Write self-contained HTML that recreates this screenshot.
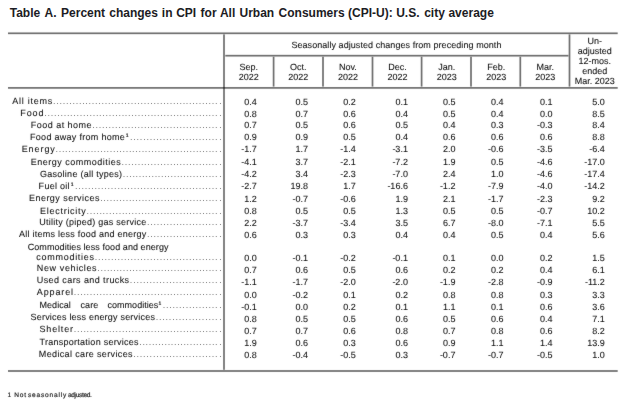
<!DOCTYPE html><html><head><meta charset="utf-8"><style>
html,body{margin:0;padding:0;background:#fff;}svg{display:block;}
text{font-family:"Liberation Sans", Arial, sans-serif;fill:#111;text-rendering:geometricPrecision;}
.t{font-weight:bold;font-size:12px;fill:#1c1c24;text-rendering:auto;}
.b{font-size:9px;stroke:#111;stroke-width:0.08;}
.d{font-size:9px;fill:#666;}
.s{font-size:5px;stroke:#111;stroke-width:0.2px;}
.f{font-size:6.6px;fill:#222;stroke:#222;stroke-width:0.18px;}
</style></head><body>
<svg width="624" height="410" viewBox="0 0 624 410">
<defs><filter id="bl" x="0" y="0" width="624" height="410" filterUnits="userSpaceOnUse" color-interpolation-filters="sRGB"><feConvolveMatrix order="3" kernelMatrix="0.0100 0.0400 0.0100 0.0400 0.8000 0.0400 0.0100 0.0400 0.0100" edgeMode="duplicate"/></filter></defs>
<g filter="url(#bl)">
<rect width="624" height="410" fill="#fff"/>
<rect x="8.00" y="32.45" width="609.70" height="1.70" fill="rgba(0,0,0,0.57)"/>
<rect x="225.30" y="54.85" width="343.10" height="1.70" fill="rgba(0,0,0,0.57)"/>
<rect x="8.00" y="87.05" width="609.70" height="1.70" fill="rgba(0,0,0,0.57)"/>
<rect x="8.00" y="370.15" width="609.70" height="1.70" fill="rgba(0,0,0,0.58)"/>
<rect x="223.15" y="34.40" width="1.70" height="335.40" fill="rgba(0,0,0,0.57)"/>
<rect x="568.65" y="34.40" width="1.70" height="52.20" fill="rgba(0,0,0,0.57)"/>
<rect x="272.75" y="56.80" width="1.70" height="29.80" fill="rgba(0,0,0,0.57)"/>
<rect x="322.15" y="56.80" width="1.70" height="29.80" fill="rgba(0,0,0,0.57)"/>
<rect x="371.65" y="56.80" width="1.70" height="29.80" fill="rgba(0,0,0,0.57)"/>
<rect x="420.75" y="56.80" width="1.70" height="29.80" fill="rgba(0,0,0,0.57)"/>
<rect x="470.15" y="56.80" width="1.70" height="29.80" fill="rgba(0,0,0,0.57)"/>
<rect x="519.45" y="56.80" width="1.70" height="29.80" fill="rgba(0,0,0,0.57)"/>
<text class="b" x="291.4" y="47.7" textLength="210">Seasonally adjusted changes from preceding month</text>
<text class="b" x="248.75" y="70.2" text-anchor="middle">Sep.</text>
<text class="b" x="248.75" y="80.2" text-anchor="middle">2022</text>
<text class="b" x="298.35" y="70.2" text-anchor="middle">Oct.</text>
<text class="b" x="298.35" y="80.2" text-anchor="middle">2022</text>
<text class="b" x="347.95" y="70.2" text-anchor="middle">Nov.</text>
<text class="b" x="347.95" y="80.2" text-anchor="middle">2022</text>
<text class="b" x="397.40" y="70.2" text-anchor="middle">Dec.</text>
<text class="b" x="397.40" y="80.2" text-anchor="middle">2022</text>
<text class="b" x="446.80" y="70.2" text-anchor="middle">Jan.</text>
<text class="b" x="446.80" y="80.2" text-anchor="middle">2023</text>
<text class="b" x="496.15" y="70.2" text-anchor="middle">Feb.</text>
<text class="b" x="496.15" y="80.2" text-anchor="middle">2023</text>
<text class="b" x="545.20" y="70.2" text-anchor="middle">Mar.</text>
<text class="b" x="545.20" y="80.2" text-anchor="middle">2023</text>
<text class="b" x="594.8" y="43.90" text-anchor="middle">Un-</text>
<text class="b" x="594.8" y="54.00" text-anchor="middle">adjusted</text>
<text class="b" x="594.8" y="64.10" text-anchor="middle">12-mos.</text>
<text class="b" x="594.8" y="74.20" text-anchor="middle">ended</text>
<text class="b" x="594.8" y="84.30" text-anchor="middle">Mar. 2023</text>
<text class="b" x="12.30" y="104.40" textLength="39.90">All items</text>
<text class="d" x="52.95 56.19 59.43 62.68 65.92 69.16 72.40 75.64 78.89 82.13 85.37 88.61 91.85 95.10 98.34 101.58 104.82 108.06 111.31 114.55 117.79 121.03 124.27 127.52 130.76 134.00 137.24 140.48 143.73 146.97 150.21 153.45 156.69 159.94 163.18 166.42 169.66 172.90 176.15 179.39 182.63 185.87 189.11 192.36 195.60 198.84 202.08 205.32 208.57 211.81 215.05" y="104.40">...................................................</text>
<text class="d" x="219.35" y="104.40">.</text>
<text class="b" x="256.80" y="104.50" text-anchor="end">0.4</text>
<text class="b" x="308.10" y="104.50" text-anchor="end">0.5</text>
<text class="b" x="355.70" y="104.50" text-anchor="end">0.2</text>
<text class="b" x="407.90" y="104.50" text-anchor="end">0.1</text>
<text class="b" x="455.40" y="104.50" text-anchor="end">0.5</text>
<text class="b" x="503.50" y="104.50" text-anchor="end">0.4</text>
<text class="b" x="552.60" y="104.50" text-anchor="end">0.1</text>
<text class="b" x="604.80" y="104.50" text-anchor="end">5.0</text>
<text class="b" x="20.20" y="116.20" textLength="23.40">Food</text>
<text class="d" x="44.35 47.57 50.79 54.01 57.23 60.45 63.67 66.90 70.12 73.34 76.56 79.78 83.00 86.22 89.44 92.66 95.88 99.10 102.32 105.54 108.77 111.99 115.21 118.43 121.65 124.87 128.09 131.31 134.53 137.75 140.97 144.19 147.41 150.63 153.86 157.08 160.30 163.52 166.74 169.96 173.18 176.40 179.62 182.84 186.06 189.28 192.50 195.73 198.95 202.17 205.39 208.61 211.83 215.05" y="116.20">......................................................</text>
<text class="d" x="219.35" y="116.20">.</text>
<text class="b" x="256.80" y="116.50" text-anchor="end">0.8</text>
<text class="b" x="308.10" y="116.50" text-anchor="end">0.7</text>
<text class="b" x="355.70" y="116.50" text-anchor="end">0.6</text>
<text class="b" x="407.90" y="116.50" text-anchor="end">0.4</text>
<text class="b" x="455.40" y="116.50" text-anchor="end">0.5</text>
<text class="b" x="503.50" y="116.50" text-anchor="end">0.4</text>
<text class="b" x="552.60" y="116.50" text-anchor="end">0.0</text>
<text class="b" x="604.80" y="116.50" text-anchor="end">8.5</text>
<text class="b" x="30.70" y="128.20" textLength="60.90">Food at home</text>
<text class="d" x="92.35 95.58 98.81 102.04 105.27 108.49 111.72 114.95 118.18 121.41 124.64 127.87 131.10 134.33 137.56 140.78 144.01 147.24 150.47 153.70 156.93 160.16 163.39 166.62 169.84 173.07 176.30 179.53 182.76 185.99 189.22 192.45 195.68 198.91 202.13 205.36 208.59 211.82 215.05" y="128.20">.......................................</text>
<text class="d" x="219.35" y="128.20">.</text>
<text class="b" x="256.80" y="128.20" text-anchor="end">0.7</text>
<text class="b" x="308.10" y="128.20" text-anchor="end">0.5</text>
<text class="b" x="355.70" y="128.20" text-anchor="end">0.6</text>
<text class="b" x="407.90" y="128.20" text-anchor="end">0.5</text>
<text class="b" x="455.40" y="128.20" text-anchor="end">0.4</text>
<text class="b" x="503.50" y="128.20" text-anchor="end">0.3</text>
<text class="b" x="552.60" y="128.20" text-anchor="end">-0.3</text>
<text class="b" x="604.80" y="128.20" text-anchor="end">8.4</text>
<text class="b" x="30.00" y="139.90" textLength="94.80">Food away from home</text>
<text class="s" x="125.70" y="136.90">1</text>
<text class="d" x="130.05 133.32 136.59 139.86 143.13 146.40 149.67 152.93 156.20 159.47 162.74 166.01 169.28 172.55 175.82 179.09 182.36 185.63 188.90 192.17 195.43 198.70 201.97 205.24 208.51 211.78 215.05" y="139.90">...........................</text>
<text class="d" x="219.35" y="139.90">.</text>
<text class="b" x="256.80" y="140.40" text-anchor="end">0.9</text>
<text class="b" x="308.10" y="140.40" text-anchor="end">0.9</text>
<text class="b" x="355.70" y="140.40" text-anchor="end">0.5</text>
<text class="b" x="407.90" y="140.40" text-anchor="end">0.4</text>
<text class="b" x="455.40" y="140.40" text-anchor="end">0.6</text>
<text class="b" x="503.50" y="140.40" text-anchor="end">0.6</text>
<text class="b" x="552.60" y="140.40" text-anchor="end">0.6</text>
<text class="b" x="604.80" y="140.40" text-anchor="end">8.8</text>
<text class="b" x="21.70" y="151.80" textLength="33.10">Energy</text>
<text class="d" x="55.55 58.74 61.93 65.12 68.31 71.50 74.69 77.88 81.07 84.26 87.45 90.64 93.83 97.02 100.21 103.40 106.59 109.78 112.97 116.16 119.35 122.54 125.73 128.92 132.11 135.30 138.49 141.68 144.87 148.06 151.25 154.44 157.63 160.82 164.01 167.20 170.39 173.58 176.77 179.96 183.15 186.34 189.53 192.72 195.91 199.10 202.29 205.48 208.67 211.86 215.05" y="151.80">...................................................</text>
<text class="d" x="219.35" y="151.80">.</text>
<text class="b" x="256.80" y="152.30" text-anchor="end">-1.7</text>
<text class="b" x="308.10" y="152.30" text-anchor="end">1.7</text>
<text class="b" x="355.70" y="152.30" text-anchor="end">-1.4</text>
<text class="b" x="407.90" y="152.30" text-anchor="end">-3.1</text>
<text class="b" x="455.40" y="152.30" text-anchor="end">2.0</text>
<text class="b" x="503.50" y="152.30" text-anchor="end">-0.6</text>
<text class="b" x="552.60" y="152.30" text-anchor="end">-3.5</text>
<text class="b" x="604.80" y="152.30" text-anchor="end">-6.4</text>
<text class="b" x="30.70" y="165.00" textLength="90.10">Energy commodities</text>
<text class="d" x="121.55 124.77 128.00 131.22 134.45 137.67 140.89 144.12 147.34 150.57 153.79 157.02 160.24 163.46 166.69 169.91 173.14 176.36 179.58 182.81 186.03 189.26 192.48 195.71 198.93 202.15 205.38 208.60 211.83 215.05" y="165.00">..............................</text>
<text class="d" x="219.35" y="165.00">.</text>
<text class="b" x="256.80" y="165.20" text-anchor="end">-4.1</text>
<text class="b" x="308.10" y="165.20" text-anchor="end">3.7</text>
<text class="b" x="355.70" y="165.20" text-anchor="end">-2.1</text>
<text class="b" x="407.90" y="165.20" text-anchor="end">-7.2</text>
<text class="b" x="455.40" y="165.20" text-anchor="end">1.9</text>
<text class="b" x="503.50" y="165.20" text-anchor="end">0.5</text>
<text class="b" x="552.60" y="165.20" text-anchor="end">-4.6</text>
<text class="b" x="604.80" y="165.20" text-anchor="end">-17.0</text>
<text class="b" x="40.00" y="177.20" textLength="82.10">Gasoline (all types)</text>
<text class="d" x="122.85 126.03 129.21 132.39 135.57 138.75 141.93 145.11 148.28 151.46 154.64 157.82 161.00 164.18 167.36 170.54 173.72 176.90 180.08 183.26 186.44 189.62 192.79 195.97 199.15 202.33 205.51 208.69 211.87 215.05" y="177.20">..............................</text>
<text class="d" x="219.35" y="177.20">.</text>
<text class="b" x="256.80" y="177.20" text-anchor="end">-4.2</text>
<text class="b" x="308.10" y="177.20" text-anchor="end">3.4</text>
<text class="b" x="355.70" y="177.20" text-anchor="end">-2.3</text>
<text class="b" x="407.90" y="177.20" text-anchor="end">-7.0</text>
<text class="b" x="455.40" y="177.20" text-anchor="end">2.4</text>
<text class="b" x="503.50" y="177.20" text-anchor="end">1.0</text>
<text class="b" x="552.60" y="177.20" text-anchor="end">-4.6</text>
<text class="b" x="604.80" y="177.20" text-anchor="end">-17.4</text>
<text class="b" x="38.60" y="188.90" textLength="31.00">Fuel oil</text>
<text class="s" x="70.70" y="185.90">1</text>
<text class="d" x="75.05 78.31 81.56 84.82 88.07 91.33 94.58 97.84 101.10 104.35 107.61 110.86 114.12 117.38 120.63 123.89 127.14 130.40 133.65 136.91 140.17 143.42 146.68 149.93 153.19 156.45 159.70 162.96 166.21 169.47 172.72 175.98 179.24 182.49 185.75 189.00 192.26 195.52 198.77 202.03 205.28 208.54 211.79 215.05" y="188.90">............................................</text>
<text class="d" x="219.35" y="188.90">.</text>
<text class="b" x="256.80" y="189.10" text-anchor="end">-2.7</text>
<text class="b" x="308.10" y="189.10" text-anchor="end">19.8</text>
<text class="b" x="355.70" y="189.10" text-anchor="end">1.7</text>
<text class="b" x="407.90" y="189.10" text-anchor="end">-16.6</text>
<text class="b" x="455.40" y="189.10" text-anchor="end">-1.2</text>
<text class="b" x="503.50" y="189.10" text-anchor="end">-7.9</text>
<text class="b" x="552.60" y="189.10" text-anchor="end">-4.0</text>
<text class="b" x="604.80" y="189.10" text-anchor="end">-14.2</text>
<text class="b" x="29.00" y="201.40" textLength="70.40">Energy services</text>
<text class="d" x="100.15 103.34 106.53 109.73 112.92 116.11 119.30 122.49 125.68 128.88 132.07 135.26 138.45 141.64 144.83 148.03 151.22 154.41 157.60 160.79 163.98 167.18 170.37 173.56 176.75 179.94 183.13 186.33 189.52 192.71 195.90 199.09 202.28 205.48 208.67 211.86 215.05" y="201.40">.....................................</text>
<text class="d" x="219.35" y="201.40">.</text>
<text class="b" x="256.80" y="201.60" text-anchor="end">1.2</text>
<text class="b" x="308.10" y="201.60" text-anchor="end">-0.7</text>
<text class="b" x="355.70" y="201.60" text-anchor="end">-0.6</text>
<text class="b" x="407.90" y="201.60" text-anchor="end">1.9</text>
<text class="b" x="455.40" y="201.60" text-anchor="end">2.1</text>
<text class="b" x="503.50" y="201.60" text-anchor="end">-1.7</text>
<text class="b" x="552.60" y="201.60" text-anchor="end">-2.3</text>
<text class="b" x="604.80" y="201.60" text-anchor="end">9.2</text>
<text class="b" x="40.00" y="213.60" textLength="45.80">Electricity</text>
<text class="d" x="86.55 89.76 92.98 96.19 99.40 102.61 105.83 109.04 112.25 115.46 118.68 121.89 125.10 128.31 131.53 134.74 137.95 141.16 144.38 147.59 150.80 154.01 157.23 160.44 163.65 166.86 170.07 173.29 176.50 179.71 182.93 186.14 189.35 192.56 195.78 198.99 202.20 205.41 208.62 211.84 215.05" y="213.60">.........................................</text>
<text class="d" x="219.35" y="213.60">.</text>
<text class="b" x="256.80" y="213.90" text-anchor="end">0.8</text>
<text class="b" x="308.10" y="213.90" text-anchor="end">0.5</text>
<text class="b" x="355.70" y="213.90" text-anchor="end">0.5</text>
<text class="b" x="407.90" y="213.90" text-anchor="end">1.3</text>
<text class="b" x="455.40" y="213.90" text-anchor="end">0.5</text>
<text class="b" x="503.50" y="213.90" text-anchor="end">0.5</text>
<text class="b" x="552.60" y="213.90" text-anchor="end">-0.7</text>
<text class="b" x="604.80" y="213.90" text-anchor="end">10.2</text>
<text class="b" x="39.30" y="225.20" textLength="106.90">Utility (piped) gas service</text>
<text class="d" x="146.95 150.19 153.44 156.68 159.92 163.16 166.41 169.65 172.89 176.14 179.38 182.62 185.86 189.11 192.35 195.59 198.84 202.08 205.32 208.56 211.81 215.05" y="225.20">......................</text>
<text class="d" x="219.35" y="225.20">.</text>
<text class="b" x="256.80" y="225.90" text-anchor="end">2.2</text>
<text class="b" x="308.10" y="225.90" text-anchor="end">-3.7</text>
<text class="b" x="355.70" y="225.90" text-anchor="end">-3.4</text>
<text class="b" x="407.90" y="225.90" text-anchor="end">3.5</text>
<text class="b" x="455.40" y="225.90" text-anchor="end">6.7</text>
<text class="b" x="503.50" y="225.90" text-anchor="end">-8.0</text>
<text class="b" x="552.60" y="225.90" text-anchor="end">-7.1</text>
<text class="b" x="604.80" y="225.90" text-anchor="end">5.5</text>
<text class="b" x="19.00" y="236.90" textLength="127.20">All items less food and energy</text>
<text class="d" x="146.95 150.19 153.44 156.68 159.92 163.16 166.41 169.65 172.89 176.14 179.38 182.62 185.86 189.11 192.35 195.59 198.84 202.08 205.32 208.56 211.81 215.05" y="236.90">......................</text>
<text class="d" x="219.35" y="236.90">.</text>
<text class="b" x="256.80" y="238.00" text-anchor="end">0.6</text>
<text class="b" x="308.10" y="238.00" text-anchor="end">0.3</text>
<text class="b" x="355.70" y="238.00" text-anchor="end">0.3</text>
<text class="b" x="407.90" y="238.00" text-anchor="end">0.4</text>
<text class="b" x="455.40" y="238.00" text-anchor="end">0.4</text>
<text class="b" x="503.50" y="238.00" text-anchor="end">0.5</text>
<text class="b" x="552.60" y="238.00" text-anchor="end">0.4</text>
<text class="b" x="604.80" y="238.00" text-anchor="end">5.6</text>
<text class="b" x="27.70" y="249.80" textLength="140.80">Commodities less food and energy</text>
<text class="b" x="36.20" y="259.50" textLength="57.90">commodities</text>
<text class="d" x="94.85 98.10 101.35 104.60 107.84 111.09 114.34 117.59 120.84 124.09 127.34 130.59 133.83 137.08 140.33 143.58 146.83 150.08 153.33 156.57 159.82 163.07 166.32 169.57 172.82 176.07 179.31 182.56 185.81 189.06 192.31 195.56 198.81 202.06 205.30 208.55 211.80 215.05" y="259.50">......................................</text>
<text class="d" x="219.35" y="259.50">.</text>
<text class="b" x="256.80" y="261.00" text-anchor="end">0.0</text>
<text class="b" x="308.10" y="261.00" text-anchor="end">-0.1</text>
<text class="b" x="355.70" y="261.00" text-anchor="end">-0.2</text>
<text class="b" x="407.90" y="261.00" text-anchor="end">-0.1</text>
<text class="b" x="455.40" y="261.00" text-anchor="end">0.1</text>
<text class="b" x="503.50" y="261.00" text-anchor="end">0.0</text>
<text class="b" x="552.60" y="261.00" text-anchor="end">0.2</text>
<text class="b" x="604.80" y="261.00" text-anchor="end">1.5</text>
<text class="b" x="36.80" y="271.20" textLength="59.80">New vehicles</text>
<text class="d" x="97.35 100.53 103.71 106.89 110.07 113.26 116.44 119.62 122.80 125.98 129.16 132.34 135.52 138.70 141.89 145.07 148.25 151.43 154.61 157.79 160.97 164.15 167.33 170.51 173.70 176.88 180.06 183.24 186.42 189.60 192.78 195.96 199.14 202.33 205.51 208.69 211.87 215.05" y="271.20">......................................</text>
<text class="d" x="219.35" y="271.20">.</text>
<text class="b" x="256.80" y="273.30" text-anchor="end">0.7</text>
<text class="b" x="308.10" y="273.30" text-anchor="end">0.6</text>
<text class="b" x="355.70" y="273.30" text-anchor="end">0.5</text>
<text class="b" x="407.90" y="273.30" text-anchor="end">0.6</text>
<text class="b" x="455.40" y="273.30" text-anchor="end">0.2</text>
<text class="b" x="503.50" y="273.30" text-anchor="end">0.2</text>
<text class="b" x="552.60" y="273.30" text-anchor="end">0.4</text>
<text class="b" x="604.80" y="273.30" text-anchor="end">6.1</text>
<text class="b" x="36.80" y="282.90" textLength="92.30">Used cars and trucks</text>
<text class="d" x="129.85 133.13 136.40 139.68 142.96 146.23 149.51 152.79 156.07 159.34 162.62 165.90 169.17 172.45 175.73 179.00 182.28 185.56 188.83 192.11 195.39 198.67 201.94 205.22 208.50 211.77 215.05" y="282.90">...........................</text>
<text class="d" x="219.35" y="282.90">.</text>
<text class="b" x="256.80" y="285.40" text-anchor="end">-1.1</text>
<text class="b" x="308.10" y="285.40" text-anchor="end">-1.7</text>
<text class="b" x="355.70" y="285.40" text-anchor="end">-2.0</text>
<text class="b" x="407.90" y="285.40" text-anchor="end">-2.0</text>
<text class="b" x="455.40" y="285.40" text-anchor="end">-1.9</text>
<text class="b" x="503.50" y="285.40" text-anchor="end">-2.8</text>
<text class="b" x="552.60" y="285.40" text-anchor="end">-0.9</text>
<text class="b" x="604.80" y="285.40" text-anchor="end">-11.2</text>
<text class="b" x="36.80" y="294.70" textLength="36.20">Apparel</text>
<text class="d" x="73.75 76.96 80.17 83.38 86.60 89.81 93.02 96.23 99.44 102.65 105.86 109.08 112.29 115.50 118.71 121.92 125.13 128.34 131.55 134.77 137.98 141.19 144.40 147.61 150.82 154.03 157.25 160.46 163.67 166.88 170.09 173.30 176.51 179.73 182.94 186.15 189.36 192.57 195.78 198.99 202.20 205.42 208.63 211.84 215.05" y="294.70">.............................................</text>
<text class="d" x="219.35" y="294.70">.</text>
<text class="b" x="256.80" y="297.90" text-anchor="end">0.0</text>
<text class="b" x="308.10" y="297.90" text-anchor="end">-0.2</text>
<text class="b" x="355.70" y="297.90" text-anchor="end">0.1</text>
<text class="b" x="407.90" y="297.90" text-anchor="end">0.2</text>
<text class="b" x="455.40" y="297.90" text-anchor="end">0.8</text>
<text class="b" x="503.50" y="297.90" text-anchor="end">0.8</text>
<text class="b" x="552.60" y="297.90" text-anchor="end">0.3</text>
<text class="b" x="604.80" y="297.90" text-anchor="end">3.3</text>
<text class="b" x="39.50" y="307.80" textLength="31.30">Medical</text>
<text class="b" x="80.60" y="307.80" textLength="17.60">care</text>
<text class="b" x="107.50" y="307.80" textLength="50.80">commodities</text>
<text class="s" x="158.40" y="304.80">1</text>
<text class="d" x="162.75 166.02 169.29 172.56 175.82 179.09 182.36 185.63 188.90 192.17 195.44 198.71 201.98 205.24 208.51 211.78 215.05" y="307.80">.................</text>
<text class="d" x="219.35" y="307.80">.</text>
<text class="b" x="256.80" y="309.70" text-anchor="end">-0.1</text>
<text class="b" x="308.10" y="309.70" text-anchor="end">0.0</text>
<text class="b" x="355.70" y="309.70" text-anchor="end">0.2</text>
<text class="b" x="407.90" y="309.70" text-anchor="end">0.1</text>
<text class="b" x="455.40" y="309.70" text-anchor="end">1.1</text>
<text class="b" x="503.50" y="309.70" text-anchor="end">0.1</text>
<text class="b" x="552.60" y="309.70" text-anchor="end">0.6</text>
<text class="b" x="604.80" y="309.70" text-anchor="end">3.6</text>
<text class="b" x="30.50" y="319.50" textLength="124.40">Services less energy services</text>
<text class="d" x="155.65 158.95 162.25 165.55 168.85 172.15 175.45 178.75 182.05 185.35 188.65 191.95 195.25 198.55 201.85 205.15 208.45 211.75 215.05" y="319.50">...................</text>
<text class="d" x="219.35" y="319.50">.</text>
<text class="b" x="256.80" y="322.20" text-anchor="end">0.8</text>
<text class="b" x="308.10" y="322.20" text-anchor="end">0.5</text>
<text class="b" x="355.70" y="322.20" text-anchor="end">0.5</text>
<text class="b" x="407.90" y="322.20" text-anchor="end">0.6</text>
<text class="b" x="455.40" y="322.20" text-anchor="end">0.5</text>
<text class="b" x="503.50" y="322.20" text-anchor="end">0.6</text>
<text class="b" x="552.60" y="322.20" text-anchor="end">0.4</text>
<text class="b" x="604.80" y="322.20" text-anchor="end">7.1</text>
<text class="b" x="39.50" y="331.80" textLength="33.50">Shelter</text>
<text class="d" x="73.75 76.96 80.17 83.38 86.60 89.81 93.02 96.23 99.44 102.65 105.86 109.08 112.29 115.50 118.71 121.92 125.13 128.34 131.55 134.77 137.98 141.19 144.40 147.61 150.82 154.03 157.25 160.46 163.67 166.88 170.09 173.30 176.51 179.73 182.94 186.15 189.36 192.57 195.78 198.99 202.20 205.42 208.63 211.84 215.05" y="331.80">.............................................</text>
<text class="d" x="219.35" y="331.80">.</text>
<text class="b" x="256.80" y="333.70" text-anchor="end">0.7</text>
<text class="b" x="308.10" y="333.70" text-anchor="end">0.7</text>
<text class="b" x="355.70" y="333.70" text-anchor="end">0.6</text>
<text class="b" x="407.90" y="333.70" text-anchor="end">0.8</text>
<text class="b" x="455.40" y="333.70" text-anchor="end">0.7</text>
<text class="b" x="503.50" y="333.70" text-anchor="end">0.8</text>
<text class="b" x="552.60" y="333.70" text-anchor="end">0.6</text>
<text class="b" x="604.80" y="333.70" text-anchor="end">8.2</text>
<text class="b" x="39.50" y="344.70" textLength="99.00">Transportation services</text>
<text class="d" x="139.25 142.41 145.57 148.72 151.88 155.04 158.20 161.36 164.52 167.68 170.83 173.99 177.15 180.31 183.47 186.62 189.78 192.94 196.10 199.26 202.42 205.57 208.73 211.89 215.05" y="344.70">.........................</text>
<text class="d" x="219.35" y="344.70">.</text>
<text class="b" x="256.80" y="346.30" text-anchor="end">1.9</text>
<text class="b" x="308.10" y="346.30" text-anchor="end">0.6</text>
<text class="b" x="355.70" y="346.30" text-anchor="end">0.3</text>
<text class="b" x="407.90" y="346.30" text-anchor="end">0.6</text>
<text class="b" x="455.40" y="346.30" text-anchor="end">0.9</text>
<text class="b" x="503.50" y="346.30" text-anchor="end">1.1</text>
<text class="b" x="552.60" y="346.30" text-anchor="end">1.4</text>
<text class="b" x="604.80" y="346.30" text-anchor="end">13.9</text>
<text class="b" x="38.80" y="357.10" textLength="93.70">Medical care services</text>
<text class="d" x="133.25 136.52 139.79 143.07 146.34 149.61 152.88 156.15 159.43 162.70 165.97 169.24 172.51 175.79 179.06 182.33 185.60 188.87 192.15 195.42 198.69 201.96 205.23 208.51 211.78 215.05" y="357.10">..........................</text>
<text class="d" x="219.35" y="357.10">.</text>
<text class="b" x="256.80" y="358.00" text-anchor="end">0.8</text>
<text class="b" x="308.10" y="358.00" text-anchor="end">-0.4</text>
<text class="b" x="355.70" y="358.00" text-anchor="end">-0.5</text>
<text class="b" x="407.90" y="358.00" text-anchor="end">0.3</text>
<text class="b" x="455.40" y="358.00" text-anchor="end">-0.7</text>
<text class="b" x="503.50" y="358.00" text-anchor="end">-0.7</text>
<text class="b" x="552.60" y="358.00" text-anchor="end">-0.5</text>
<text class="b" x="604.80" y="358.00" text-anchor="end">1.0</text>
<text class="f" x="7.50" y="396.5" textLength="2.70">1</text>
<text class="f" x="14.20" y="396.5" textLength="12.00">Not</text>
<text class="f" x="27.90" y="396.5" textLength="38.30">seasonally</text>
<text class="f" x="68.00" y="396.5" textLength="23.90">adjusted.</text>
</g>
<text class="t" y="17"><tspan x="9.72">Table</tspan> <tspan x="44.60">A.</tspan> <tspan x="61.10">Percent</tspan> <tspan x="109.23">changes</tspan> <tspan x="161.86">in</tspan> <tspan x="176.21">CPI</tspan> <tspan x="200.59">for</tspan> <tspan x="219.90">All</tspan> <tspan x="239.48">Urban</tspan> <tspan x="278.61">Consumers</tspan> <tspan x="348.00">(CPI-U):</tspan> <tspan x="396.18">U.S.</tspan> <tspan x="424.13">city</tspan> <tspan x="448.45">average</tspan></text>
</svg></body></html>
